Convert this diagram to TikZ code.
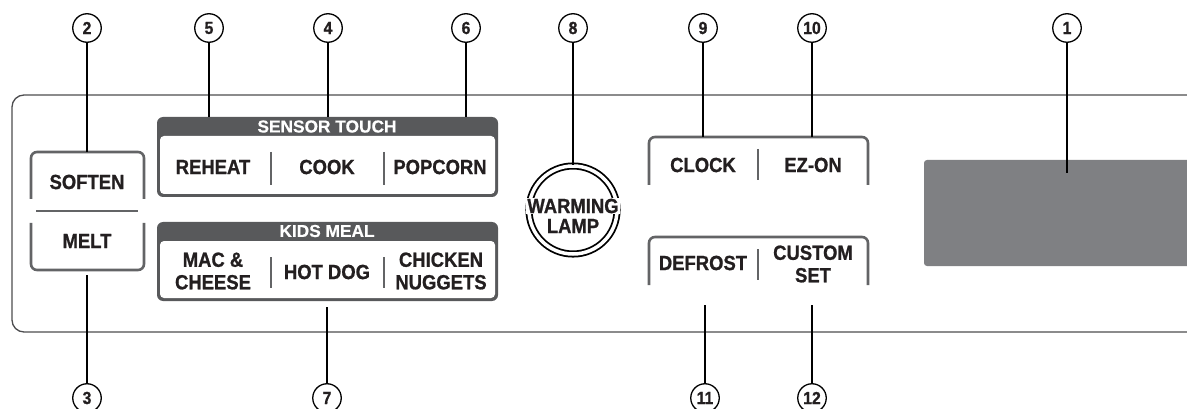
\documentclass[tikz,border=0pt]{standalone}
\usepackage{fontspec}
\setmainfont{Liberation Sans}
\newfontfamily\condfont[FakeStretch=0.9,BoldFeatures={FakeBold=0.9}]{Liberation Sans}
\newfontfamily\hdrfont[BoldFeatures={FakeBold=0.5}]{Liberation Sans}
\definecolor{ink}{HTML}{231F20}
\definecolor{darkc}{HTML}{58595B}
\definecolor{midgray}{HTML}{636466}
\definecolor{panelc}{HTML}{4D4D4F}
\definecolor{dispc}{HTML}{7F8083}
\begin{document}
\begin{tikzpicture}[x=1pt,y=-1pt,
  num/.style={circle,draw=black,line width=1.3pt,minimum size=28.5pt,inner sep=0pt,
    font=\condfont\fontsize{17.5}{17.5}\selectfont\bfseries,text=ink,fill=white},
  lead/.style={draw=black,line width=1.5pt},
  lbl/.style={font=\condfont\fontsize{20.5}{22.5}\selectfont\bfseries,text=ink,align=center,inner sep=0pt},
  hdr/.style={font=\hdrfont\fontsize{17.3}{17.3}\selectfont\bfseries,text=white,inner sep=0pt},
  brk/.style={draw=midgray,line width=2.6pt,rounded corners=6pt},
  sepline/.style={draw=midgray,line width=2.6pt},
  group/.style={fill=darkc,rounded corners=6pt,minimum width=341pt,minimum height=80pt,inner sep=0pt},
]
\useasboundingbox (0,0) rectangle (1187,409);
\clip (0,0) rectangle (1187,409);

% panel outline
\draw[line width=1.3pt,draw=panelc,rounded corners=12pt] (1200,95) -- (12,95) -- (12,332) -- (1200,332);

% display
\node[fill=dispc,rounded corners=3pt,minimum width=274pt,minimum height=106pt,inner sep=0pt] (disp) at (1061,213) {};
\coordinate (d1) at (1067,173);

% SOFTEN / MELT
\draw[brk] (31,199) -- (31,152) -- (144,152) -- (144,199);
\draw[sepline] (36,211) -- (138,211);
\draw[brk] (31,223) -- (31,270) -- (144,270) -- (144,223);
\node[lbl] (soften) at (87,182) {SOFTEN};
\node[lbl] (melt) at (87,241) {MELT};
\coordinate (softtop) at (87,152);
\coordinate (meltbot) at (87,275);

% SENSOR TOUCH
\node[group] (sensor) at (327.5,157) {};
\fill[white,rounded corners=4pt] (160,136) rectangle (495,194);
\node[hdr] (sensorhdr) at (327,126.5) {SENSOR TOUCH};
\draw[sepline] (271,152) -- (271,185);
\draw[sepline] (384,152) -- (384,185);
\node[lbl] (reheat) at (213,167) {REHEAT};
\node[lbl] (cook) at (327,167) {COOK};
\node[lbl] (popcorn) at (440,167) {POPCORN};

% KIDS MEAL
\node[group,minimum height=79pt] (kids) at (327.5,261.5) {};
\fill[white,rounded corners=4pt] (160,241) rectangle (495,298);
\node[hdr] (kidshdr) at (327,231) {KIDS MEAL};
\draw[sepline] (271,257) -- (271,288);
\draw[sepline] (384,257) -- (384,288);
\node[lbl] (mac) at (213,271) {MAC \&\\CHEESE};
\node[lbl] (hotdog) at (327,272) {HOT DOG};
\node[lbl] (chicken) at (441,271) {CHICKEN\\NUGGETS};
\coordinate (kidsbot) at (327,307);

% WARMING LAMP
\node[circle,draw=black,double=white,double distance=3.5pt,line width=1.8pt,minimum size=88pt,inner sep=0pt] (lamp) at (573,210) {};
\node[lbl,fill=white,inner xsep=1.5pt,inner ysep=1pt] (warming) at (573,206) {WARMING};
\node[lbl] (lampt) at (573,226) {LAMP};

% CLOCK / EZ-ON
\draw[brk] (649,185) -- (649,137) -- (868,137) -- (868,185);
\draw[sepline] (758,149) -- (758,180);
\node[lbl] (clock) at (703,165) {CLOCK};
\node[lbl] (ezon) at (813,165) {EZ-ON};
\coordinate (clocktop) at (703,137);
\coordinate (ezontop) at (812,137);

% DEFROST / CUSTOM SET
\draw[brk] (649,285) -- (649,237) -- (868,237) -- (868,285);
\draw[sepline] (758,249) -- (758,280);
\node[lbl] (defrost) at (703,263) {DEFROST};
\node[lbl] (custom) at (813,264) {CUSTOM\\SET};
\coordinate (defrostbot) at (705,305);
\coordinate (custombot) at (812,305);

% numbered callouts
\node[num] (n1) at (1067,28) {1};
\node[num] (n2) at (87,28) {2};
\node[num] (n3) at (87,398) {3};
\node[num] (n4) at (328,28) {4};
\node[num] (n5) at (209,28) {5};
\node[num] (n6) at (466,28) {6};
\node[num] (n7) at (327,398) {7};
\node[num] (n8) at (573,28) {8};
\node[num] (n9) at (703,28) {9};
\node[num] (n10) at (812,28) {10};
\node[num] (n11) at (705,398) {11};
\node[num] (n12) at (812,398) {12};

% leaders
\draw[lead] (n1) -- (d1);
\draw[lead] (n2) -- (softtop);
\draw[lead] (meltbot) -- (n3);
\draw[lead] (n4) -- (n4 |- sensor.north);
\draw[lead] (n5) -- (n5 |- sensor.north);
\draw[lead] (n6) -- (n6 |- sensor.north);
\draw[lead] (kidsbot) -- (n7);
\draw[lead] (n8) -- (lamp.north);
\draw[lead] (n9) -- (clocktop);
\draw[lead] (n10) -- (ezontop);
\draw[lead] (defrostbot) -- (n11);
\draw[lead] (custombot) -- (n12);
\end{tikzpicture}
\end{document}
